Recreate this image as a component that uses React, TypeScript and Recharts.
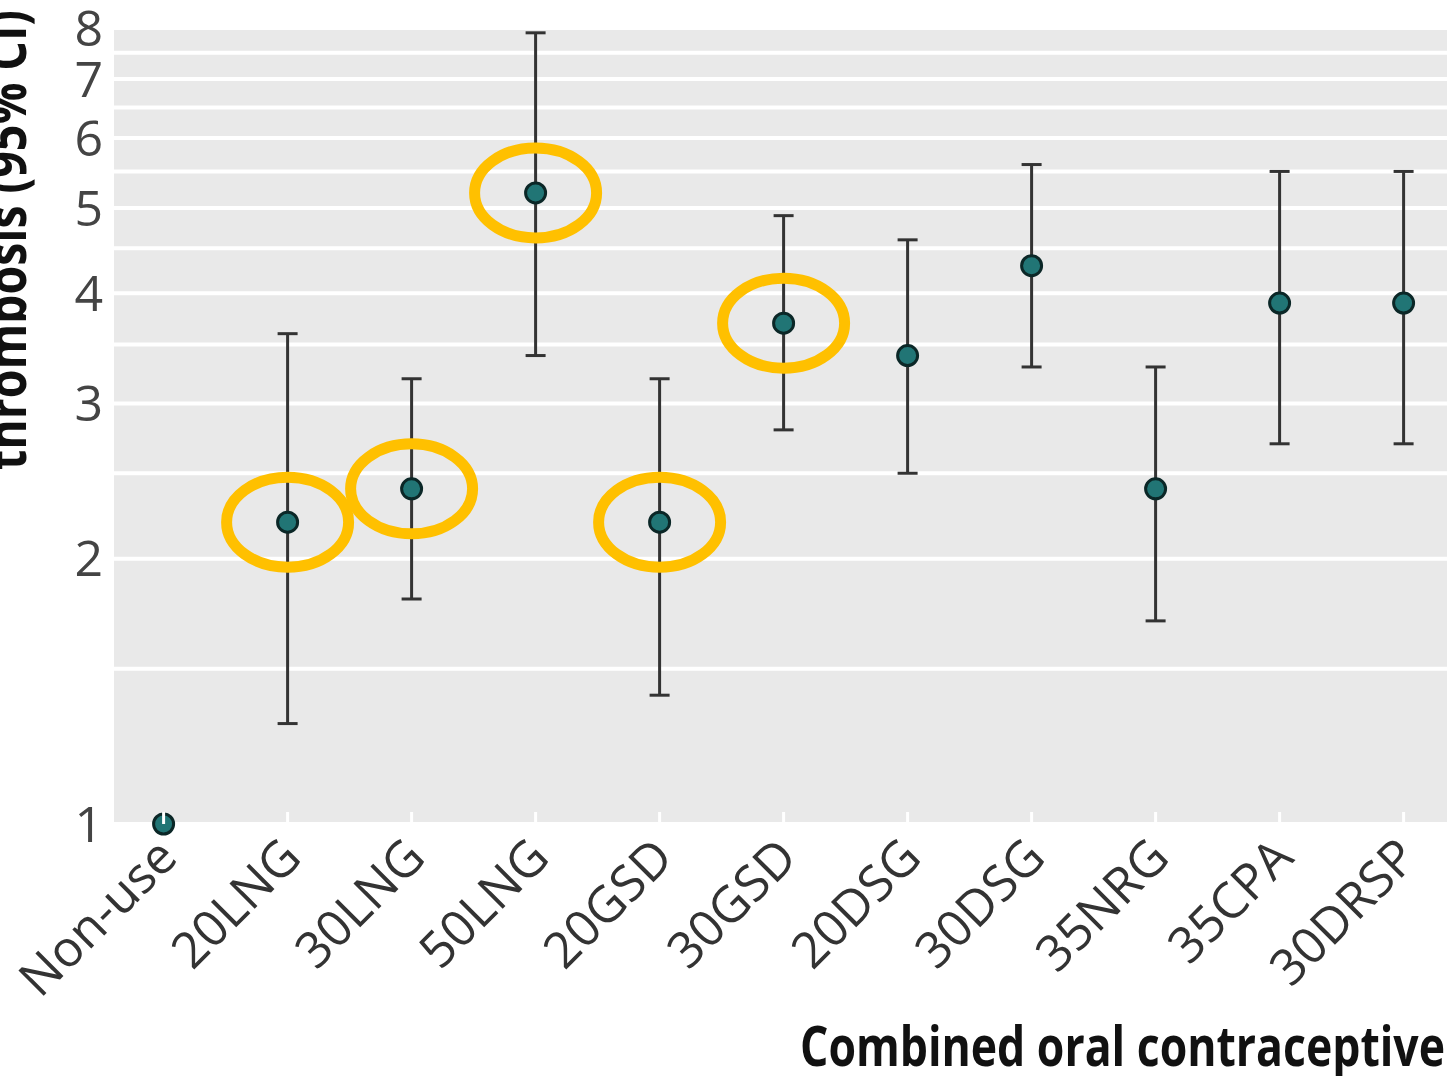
import {
  ScatterChart,
  Scatter,
  XAxis,
  YAxis,
  CartesianGrid,
  ReferenceLine,
  ErrorBar,
  Label,
} from 'recharts';

// Rate ratios (log scale)
const categories = ['Non-use', '20LNG', '30LNG', '50LNG', '20GSD', '30GSD', '20DSG', '30DSG', '35NRG', '35CPA', '30DRSP'];
const estimates = [1.0, 2.2, 2.4, 5.2, 2.2, 3.7, 3.4, 4.3, 2.4, 3.9, 3.9];
const lower = [1.0, 1.3, 1.8, 3.4, 1.4, 2.8, 2.5, 3.3, 1.7, 2.7, 2.7];
const upper = [1.0, 3.6, 3.2, 7.9, 3.2, 4.9, 4.6, 5.6, 3.3, 5.5, 5.5];
const highlighted = ['20LNG', '30LNG', '50LNG', '20GSD', '30GSD'];

const yTicks = [1, 2, 3, 4, 5, 6, 7, 8];
const yMinor = [1.5, 2.5, 3.5, 4.5, 5.5, 6.5, 7.5];

const data = categories.map((name, i) => ({
  idx: i,
  name,
  est: estimates[i],
  // ErrorBar wants distances from the estimate
  err: lower[i] === upper[i] ? null : [estimates[i] - lower[i], upper[i] - estimates[i]],
}));
const highlightData = data.filter(d => highlighted.includes(d.name));

const FONT = '"Open Sans", "DejaVu Sans", sans-serif';

function Dot(props: any) {
  const { cx, cy } = props;
  if (cx == null || cy == null) return null;
  return <circle cx={cx} cy={cy} r={10} fill="#217575" stroke="#0b2727" strokeWidth={3} />;
}

function Ring(props: any) {
  const { cx, cy } = props;
  if (cx == null || cy == null) return null;
  return <ellipse cx={cx} cy={cy} rx={61} ry={45} fill="none" stroke="#FFC000" strokeWidth={11} />;
}

// error bars only, the dots go on top in a second pass
const Nothing = () => <g />;

function XTick(props: any) {
  const { x, y, payload } = props;
  const label = categories[payload.value];
  return (
    <g>
      <line x1={x} y1={y - 12} x2={x} y2={y} stroke="#fff" strokeWidth={3} />
      <g transform={`translate(${x + 16},${y + 36}) rotate(-45)`}>
        <text textAnchor="end" fontSize={50} fill="#333" fontFamily={FONT}>
          {label}
        </text>
      </g>
    </g>
  );
}

export default function App() {
  return (
    <div style={{ position: 'absolute', left: 0, top: 0, background: '#fff' }}>
      <ScatterChart width={1456} height={1076} margin={{ top: 28, right: 9, left: 0, bottom: 0 }}>
        <CartesianGrid vertical={false} fill="#e9e9e9" fillOpacity={1} stroke="#fff" strokeWidth={4} />
        {yMinor.map(v => (
          <ReferenceLine key={v} y={v} stroke="#fff" strokeWidth={4} />
        ))}
        <XAxis
          type="number"
          dataKey="idx"
          domain={[-0.4, 10.35]}
          ticks={categories.map((_, i) => i)}
          interval={0}
          tickLine={false}
          axisLine={false}
          tickSize={0}
          tickMargin={0}
          height={252}
          tick={<XTick />}
        >
          <Label
            content={() => (
              <text
                x={1445}
                y={1066}
                textAnchor="end"
                fontSize={56}
                fontWeight="bold"
                fill="#111"
                fontFamily={FONT}
                textLength={645}
                lengthAdjust="spacingAndGlyphs"
              >
                Combined oral contraceptive
              </text>
            )}
          />
        </XAxis>
        <YAxis
          type="number"
          dataKey="est"
          scale="log"
          domain={[1, 8]}
          ticks={yTicks}
          interval={0}
          width={114}
          tickLine={false}
          axisLine={false}
          tickMargin={5}
          tick={{ fontSize: 50, fill: '#444', fontFamily: FONT }}
        >
          <Label
            content={() => (
              <text
                transform="translate(26,470) rotate(-90)"
                textAnchor="start"
                fontSize={56}
                fontWeight="bold"
                fill="#111"
                fontFamily={FONT}
                textLength={460}
                lengthAdjust="spacingAndGlyphs"
              >
                thrombosis (95% CI)
              </text>
            )}
          />
        </YAxis>
        <Scatter data={data} dataKey="est" shape={<Nothing />} isAnimationActive={false}>
          <ErrorBar dataKey="err" direction="y" width={10} stroke="#333" strokeWidth={3} isAnimationActive={false} />
        </Scatter>
        <Scatter data={data} dataKey="est" shape={<Dot />} isAnimationActive={false} />
        <Scatter data={highlightData} dataKey="est" shape={<Ring />} isAnimationActive={false} />
      </ScatterChart>
    </div>
  );
}
